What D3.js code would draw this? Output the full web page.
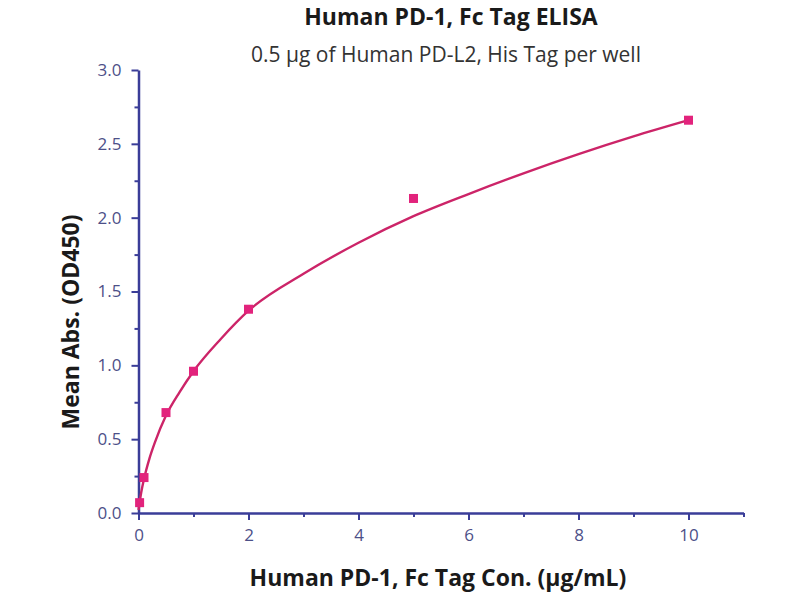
<!DOCTYPE html>
<html>
<head>
<meta charset="utf-8">
<script src="https://cdn.jsdelivr.net/npm/d3@7"></script>
<style>
  html, body { margin: 0; padding: 0; background: #ffffff; }
  svg { display: block; }
</style>
</head>
<body>
<svg id="chart" width="800" height="600"></svg>
<script>
// ---- data ----
const title = "Human PD-1, Fc Tag ELISA";
const subtitle = "0.5 \u00b5g of Human PD-L2, His Tag per well";
const xLabel = "Human PD-1, Fc Tag Con. (\u00b5g/mL)";
const yLabel = "Mean Abs. (OD450)";

// measured points
const conc = [0.02, 0.1, 0.5, 1, 2, 5, 10];
const absorb = [0.07, 0.24, 0.68, 0.96, 1.38, 2.13, 2.66];

// fitted curve
const fitX = [0, 0.05, 0.1, 0.2, 0.3, 0.5, 0.75, 1, 1.5, 2, 3, 4, 5, 6, 7, 8, 9, 10];
const fitY = [0.02, 0.14, 0.23, 0.37, 0.48, 0.66, 0.82, 0.96, 1.18, 1.37, 1.62, 1.83, 2.01, 2.16, 2.30, 2.43, 2.55, 2.66];

const xMajorTicks = [0, 2, 4, 6, 8, 10];
const xMinorTicks = [1, 3, 5, 7, 9, 11];
const yMajorTicks = [0, 0.5, 1.0, 1.5, 2.0, 2.5, 3.0];
const yMinorTicks = [0.25, 0.75, 1.25, 1.75, 2.25, 2.75];

// ---- drawing ----
const svg = d3.select("#chart");
const axisColor = "#3a3d98";
const labelColor = "#4d5088";
const curveColor = "#cc2468";
const pointColor = "#e2237c";
const font = "'Open Sans', sans-serif";

const x = d3.scaleLinear().domain([0, 11]).range([138.5, 743.5]);
const y = d3.scaleLinear().domain([0, 3]).range([513, 70]);

// minor ticks
const gxMinor = svg.append("g").attr("transform", `translate(0,${y(0)})`)
  .call(d3.axisBottom(x).tickValues(xMinorTicks).tickSize(4).tickFormat(""));
const gyMinor = svg.append("g").attr("transform", `translate(${x(0)},0)`)
  .call(d3.axisLeft(y).tickValues(yMinorTicks).tickSize(4).tickFormat(""));

// major axes
const gx = svg.append("g").attr("transform", `translate(0,${y(0)})`)
  .call(d3.axisBottom(x).tickValues(xMajorTicks).tickSize(7).tickSizeOuter(0).tickPadding(9)
    .tickFormat(d3.format("d")));
const gy = svg.append("g").attr("transform", `translate(${x(0)},0)`)
  .call(d3.axisLeft(y).tickValues(yMajorTicks).tickSize(7).tickSizeOuter(0).tickPadding(10)
    .tickFormat(d3.format(".1f")));

[gx, gy, gxMinor, gyMinor].forEach(g => {
  g.selectAll(".domain").attr("stroke", axisColor).attr("stroke-width", 2.5);
  g.selectAll(".tick line").attr("stroke", axisColor).attr("stroke-width", 2);
  g.selectAll(".tick text").attr("fill", labelColor).style("font-family", font).style("font-size", "17px");
});
gxMinor.select(".domain").remove();
gyMinor.select(".domain").remove();

// fitted curve
const line = d3.line()
  .x((d, i) => x(fitX[i]))
  .y((d, i) => y(fitY[i]))
  .curve(d3.curveMonotoneX);
svg.append("path")
  .datum(fitX)
  .attr("d", line)
  .attr("fill", "none")
  .attr("stroke", curveColor)
  .attr("stroke-width", 2.4);

// points
svg.append("g").selectAll("rect")
  .data(conc)
  .join("rect")
  .attr("x", (d) => x(d) - 4.5)
  .attr("y", (d, i) => y(absorb[i]) - 4.5)
  .attr("width", 9)
  .attr("height", 9)
  .attr("fill", pointColor);

// titles
svg.append("text")
  .attr("x", 451).attr("y", 25)
  .attr("text-anchor", "middle")
  .style("font-family", font).style("font-weight", "bold").style("font-size", "23px")
  .attr("fill", "#1a1a1a")
  .text(title);
svg.append("text")
  .attr("x", 446).attr("y", 62)
  .attr("text-anchor", "middle")
  .style("font-family", font).style("font-size", "21px")
  .attr("fill", "#333333")
  .text(subtitle);

svg.append("text")
  .attr("x", 438).attr("y", 586)
  .attr("text-anchor", "middle")
  .style("font-family", font).style("font-weight", "bold").style("font-size", "23px")
  .attr("fill", "#1a1a1a")
  .text(xLabel);

svg.append("text")
  .attr("transform", "translate(79,322) rotate(-90)")
  .attr("text-anchor", "middle")
  .style("font-family", font).style("font-weight", "bold").style("font-size", "23px")
  .attr("fill", "#1a1a1a")
  .text(yLabel);
</script>
</body>
</html>
